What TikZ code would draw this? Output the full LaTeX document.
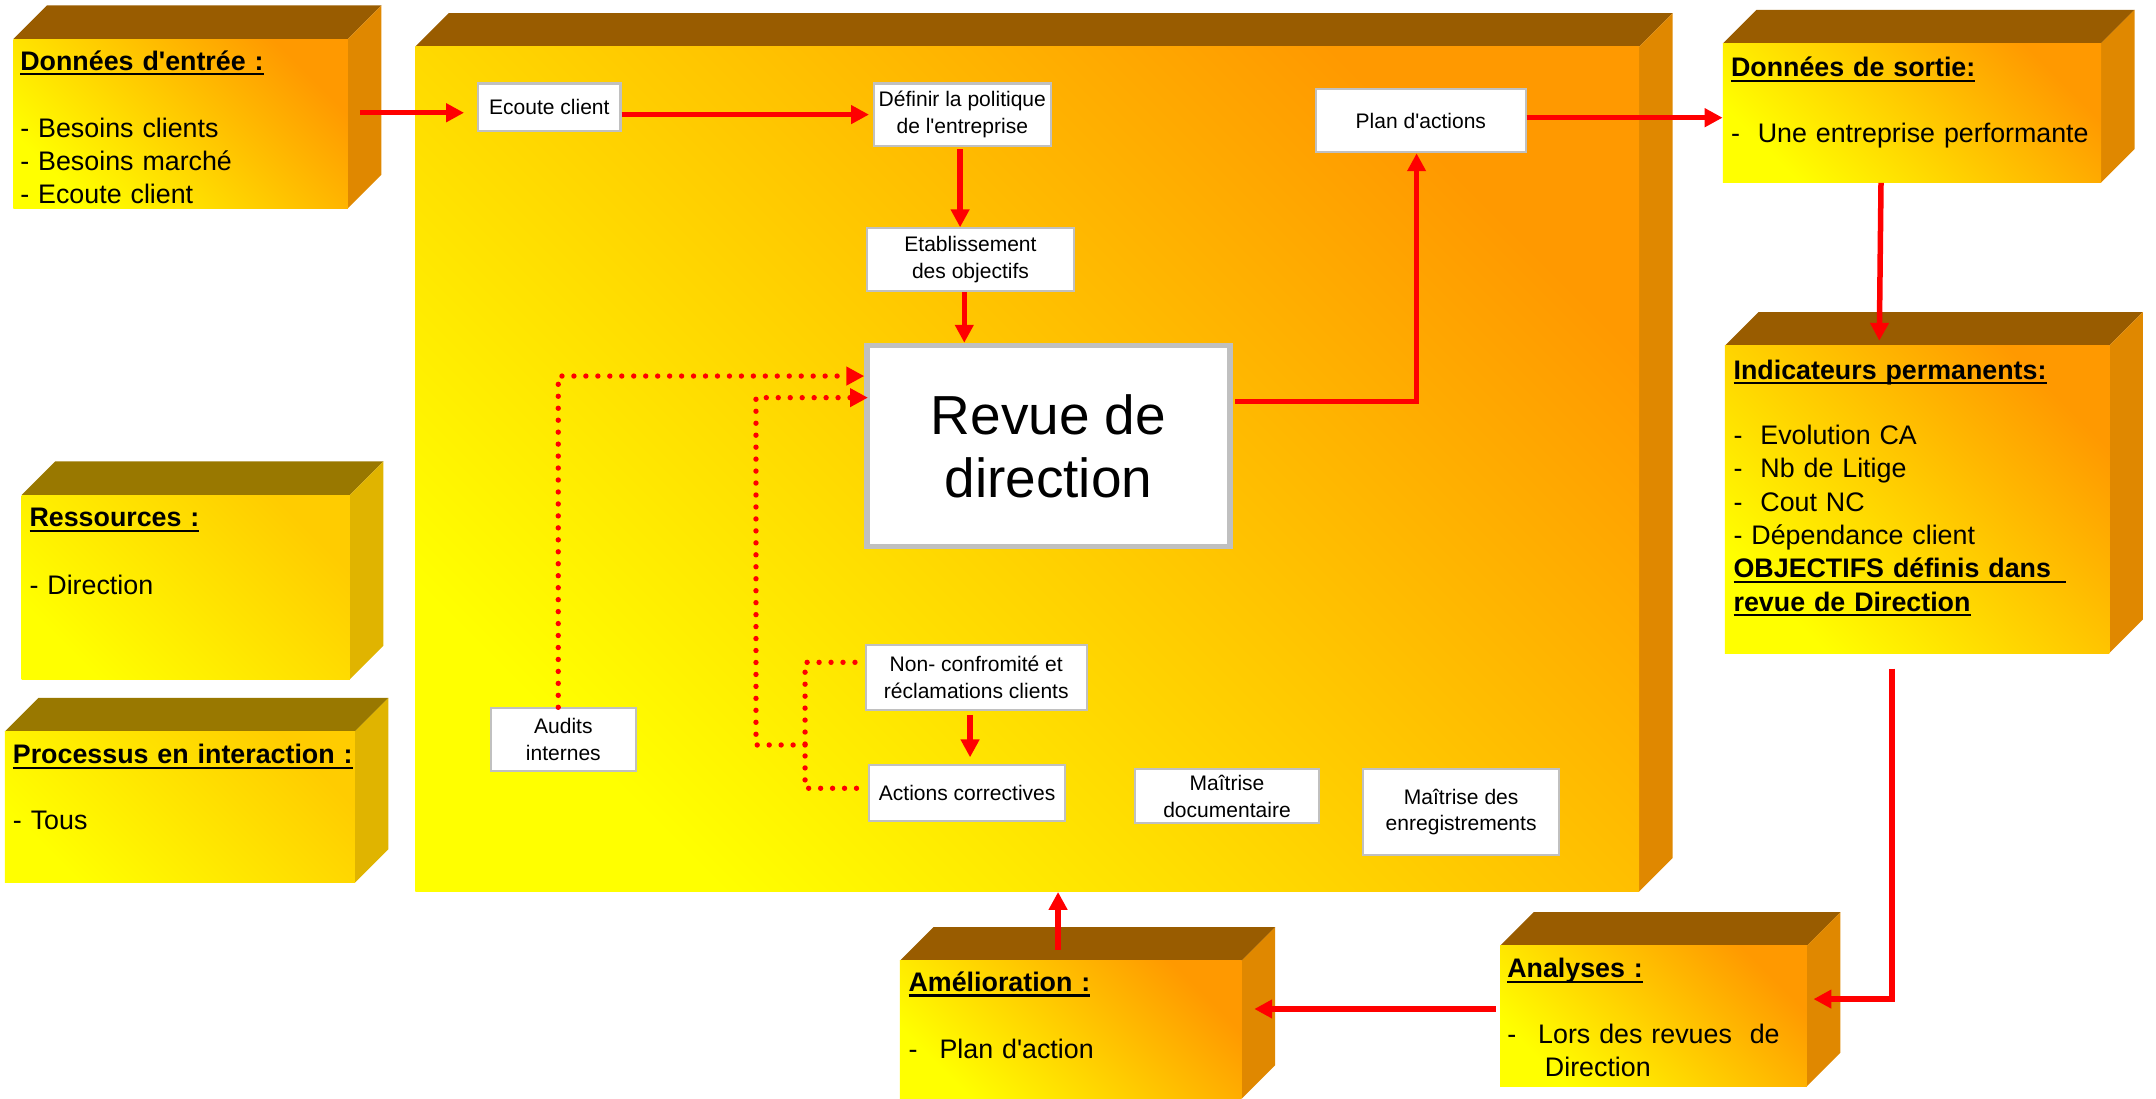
\documentclass[tikz,border=0pt]{standalone}
\usepackage{fontspec}
\setmainfont{Liberation Sans}
\usetikzlibrary{arrows.meta,fit}
\definecolor{otopc}{HTML}{995C00}
\definecolor{osidec}{HTML}{E08800}
\definecolor{ytopc}{HTML}{997800}
\definecolor{ysidec}{HTML}{E0B400}
\definecolor{yelc}{HTML}{FFFF00}
\definecolor{omidc}{HTML}{FFCC00}
\definecolor{ourc}{HTML}{FF9900}
\definecolor{ymidc}{HTML}{FFE400}
\definecolor{bgray}{HTML}{C0C0C0}
\definecolor{redc}{HTML}{FF0000}
\newcommand\bigf{\fontsize{19.5pt}{24.2pt}\selectfont}
\newcommand\smf{\fontsize{15.3pt}{19.4pt}\selectfont}
\newcommand\hugef{\fontsize{40pt}{46pt}\selectfont}
\newcommand\q{\textquotesingle}
\newcommand\ulb[1]{\leavevmode\setbox0\hbox{\textbf{#1}}\rlap{\rule[-3.8pt]{\wd0}{1.7pt}}\box0}
\newcommand\cd{24.4}
\newcommand\mkcube[6]{%
  \fill[#6top] (#2,#3) -- ({#2+\cd},{#3-\cd}) -- ({#4+\cd},{#3-\cd}) -- (#4,#3) -- cycle;
  \fill[#6side] (#4,#3) -- ({#4+\cd},{#3-\cd}) -- ({#4+\cd},{#5-\cd}) -- (#4,#5) -- cycle;
  \shade[#6front] (#2,#3) rectangle (#4,#5);
  \node[fit={(#2,#3) (#4,#5)}, inner sep=0pt] (#1) {};
}
\begin{document}
\begin{tikzpicture}[x=1pt,y=-1pt,
  otop/.style={fill=otopc}, oside/.style={fill=osidec},
  ofront/.style={left color=yelc, middle color=omidc, right color=ourc, shading angle=135},
  ytop/.style={fill=ytopc}, yside/.style={fill=ysidec},
  yfront/.style={left color=yelc, middle color=ymidc, right color=omidc, shading angle=135},
  txt/.style={font=\bigf, inner sep=0pt, align=left, text width=280pt, anchor=base west},
  inbox/.style={draw=bgray, line width=1.5pt, fill=white, inner sep=0pt, align=center, font=\smf},
  arr/.style={draw=redc, line width=4pt, -{Triangle[length=13pt,width=13pt]}},
  dotl/.style={draw=redc, line width=3.9pt, line cap=round, dash pattern=on 0pt off 8.7pt},
  dotarr/.style={dotl, -{Triangle[length=13pt,width=13pt]}}
]
\useasboundingbox (0,0) rectangle (1568,799);

% cubes
\mkcube{main}{302}{34}{1192}{648.5}{o}
\mkcube{entree}{9.7}{28.4}{253}{151.5}{o}
\mkcube{sortie}{1253}{31.6}{1528}{132.8}{o}
\mkcube{indic}{1254.5}{251.4}{1534}{475}{o}
\mkcube{ress}{15.8}{360}{254.5}{494}{y}
\mkcube{proc}{3.6}{532}{258}{642}{y}
\mkcube{amelio}{654.5}{698.7}{903}{799}{o}
\mkcube{analyses}{1091}{687.8}{1314}{790}{o}

% texts of cubes
\node[txt] (tentree) at (14.6,51) {\ulb{Données d\q entrée :}\\[24.5pt]- Besoins clients\\- Besoins marché\\- Ecoute client};
\node[txt] (tsortie) at (1258.7,56) {\ulb{Données de sortie:}\\[23.5pt]-\ \ Une entreprise performante};
\node[txt] (tindic) at (1260.6,275.7) {\ulb{Indicateurs permanents:}\\[23.5pt]-\ \ Evolution CA\\-\ \ Nb de Litige\\-\ \ Cout NC\\- Dépendance client\\\ulb{OBJECTIFS définis dans\hspace{11pt}}\\\ulb{revue de Direction}};
\node[txt] (tress) at (21.3,383) {\ulb{Ressources :}\\[24.8pt]- Direction};
\node[txt] (tproc) at (9.2,555.6) {\ulb{Processus en interaction :}\\[23.8pt]- Tous};
\node[txt] (tamelio) at (660.6,721) {\ulb{Amélioration :}\\[24.8pt]-\hspace{16pt}Plan d\q action};
\node[txt] (tanalyses) at (1096,711) {\ulb{Analyses :}\\[23.5pt]-\hspace{16pt}Lors des revues\ \ de\\\hspace*{27.4pt}Direction};

% inner boxes
\node[inbox, minimum width=103.5pt, minimum height=34.3pt] (ecoute) at (399.5,77.9) {Ecoute client};
\node[inbox, minimum width=128.8pt, minimum height=45.2pt] (definir) at (699.85,83.35) {Définir la politique\\de l\q entreprise};
\node[inbox, minimum width=150.5pt, minimum height=45.8pt] (etab) at (705.8,188.95) {Etablissement\\des objectifs};
\node[inbox, minimum width=152.4pt, minimum height=45.8pt] (plan) at (1033.35,87.85) {Plan d\q actions};
\node[inbox, minimum width=105.1pt, minimum height=45.3pt] (audits) at (409.7,537.8) {Audits\\internes};
\node[inbox, minimum width=160.5pt, minimum height=46.8pt] (nonconf) at (710,492.75) {Non- confromité et\\réclamations clients};
\node[inbox, minimum width=142.3pt, minimum height=40.9pt] (actions) at (703.4,576.8) {Actions correctives};
\node[inbox, minimum width=133.8pt, minimum height=39pt] (maitdoc) at (892.35,579.05) {Maîtrise\\documentaire};
\node[inbox, minimum width=142.2pt, minimum height=62.2pt] (maitenr) at (1062.65,590.65) {Maîtrise des\\enregistrements};
\node[draw=bgray, line width=3.9pt, fill=white, inner sep=0pt, align=center, font=\hugef,
      minimum width=264pt, minimum height=146.4pt] (revue) at (762.5,324.4) {Revue de\\direction};

% solid connectors
\coordinate (inA) at (262,82);
\draw[arr, shorten >=9.5pt] (inA) -- (ecoute.west |- inA);
\draw[arr, shorten >=2.7pt] (ecoute.east |- definir.west) -- (definir.west);
\draw[arr, shorten <=2pt] ([xshift=-1.6pt]definir.south) -- ([xshift=-1.6pt]definir.south |- etab.north);
\draw[arr] ([xshift=-4.5pt]etab.south) -- ([xshift=-4.5pt]etab.south |- revue.north);
\draw[arr, line join=miter] ([xshift=2pt]revue.east |- 0,292.1) -| ([xshift=-3.1pt]plan.south);
\draw[arr] ([yshift=2.25pt]plan.east) -- (sortie.west |- 0,85.6);
\draw[arr] ([xshift=-22.5pt]sortie.south) -- ([xshift=-27.5pt,yshift=3.4pt]indic.north);
\draw[arr, line join=miter] ([xshift=-18.4pt,yshift=-11pt]indic.south) |- ([xshift=4.7pt,yshift=12.3pt]analyses.east);
\coordinate (a9) at ([xshift=-3pt,yshift=5.1pt]analyses.west);
\draw[arr] (a9) -- ([xshift=9pt]amelio.east |- a9);
\draw[arr] ([xshift=-9.25pt,yshift=7.7pt]amelio.north) -- ([xshift=-9.25pt]amelio.north |- main.south);
\draw[arr] ([xshift=-4.5pt,yshift=-3pt]nonconf.south) -- ([xshift=-4.5pt]nonconf.south |- 0,550.8);

% dotted connectors
\coordinate (jA) at (549.8,541.8);
\coordinate (jB) at (585.5,541.8);
\draw[dotarr] ([xshift=-3.7pt]audits.north) |- (revue.west |- 0,273.5);
\draw[dotarr] (jB) -- (jA) |- ([xshift=2.65pt]revue.west |- 0,289.2);
\draw[dotl] ([xshift=-7.2pt]nonconf.west |- 0,481.7) -| (jB) |- (actions.west |- 0,573.3);
\end{tikzpicture}
\end{document}
